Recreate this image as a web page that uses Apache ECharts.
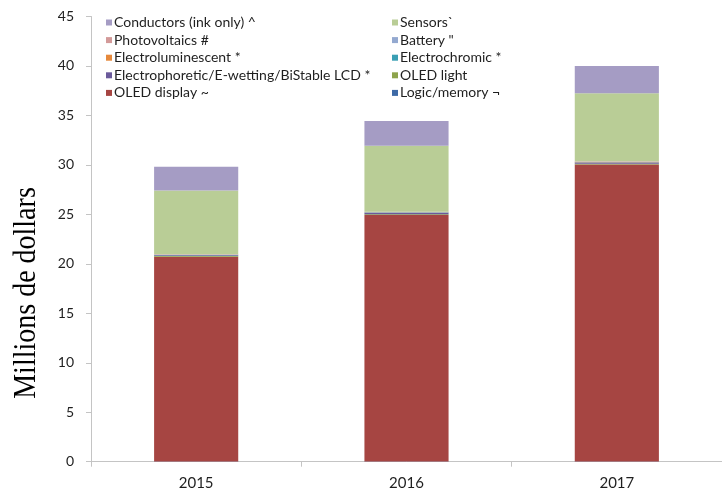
<!DOCTYPE html>
<html>
<head>
<meta charset="utf-8">
<script src="https://cdn.jsdelivr.net/npm/echarts@6/dist/echarts.min.js"></script>
<style>
  html, body { margin: 0; padding: 0; background: #ffffff; }
  #chart { width: 722px; height: 495px; }
</style>
</head>
<body>
<div id="chart"></div>
<script>
// Market value by year (millions of dollars), stacked from bottom to top
const years = ['2015', '2016', '2017'];
const logicMemory = [0.02, 0.03, 0.03];
const oledDisplay = [20.7, 24.9, 30.0];
const oledLight = [0.06, 0.08, 0.08];
const electrophoretic = [0.10, 0.14, 0.14];
const electrochromic = [0.02, 0.03, 0.03];
const electroluminescent = [0.02, 0.03, 0.03];
const battery = [0.02, 0.03, 0.04];
const photovoltaics = [0.02, 0.03, 0.03];
const sensors = [6.46, 6.66, 6.85];
const conductors = [2.4, 2.5, 2.76];
const yTicks = [0, 5, 10, 15, 20, 25, 30, 35, 40, 45];

const seriesDefs = [
  { name: 'Logic/memory \u00ac', data: logicMemory, color: '#3e6aa6' },
  { name: 'OLED display ~', data: oledDisplay, color: '#a64542' },
  { name: 'OLED light', data: oledLight, color: '#8ea44c' },
  { name: 'Electrophoretic/E-wetting/BiStable LCD *', data: electrophoretic, color: '#6b5a9b' },
  { name: 'Electrochromic *', data: electrochromic, color: '#3a9fb4' },
  { name: 'Electroluminescent *', data: electroluminescent, color: '#e6893c' },
  { name: 'Battery "', data: battery, color: '#94a9d0' },
  { name: 'Photovoltaics #', data: photovoltaics, color: '#d39a99' },
  { name: 'Sensors`', data: sensors, color: '#b9cd96' },
  { name: 'Conductors (ink only) ^', data: conductors, color: '#a59cc4' }
];

const leftLegend = ['Conductors (ink only) ^', 'Photovoltaics #', 'Electroluminescent *',
  'Electrophoretic/E-wetting/BiStable LCD *', 'OLED display ~'];
const rightLegend = ['Sensors`', 'Battery "', 'Electrochromic *', 'OLED light', 'Logic/memory \u00ac'];

const legendBase = {
  orient: 'vertical',
  top: 15.5,
  padding: 0,
  icon: 'rect',
  itemWidth: 6,
  itemHeight: 6,
  itemGap: 3.6,
  selectedMode: false,
  textStyle: {
    fontFamily: 'Lato',
    fontSize: 14,
    lineHeight: 14,
    color: '#1f1f1f',
    padding: [0, 0, 0, -3]
  }
};

const chart = echarts.init(document.getElementById('chart'), null, { renderer: 'canvas' });
chart.setOption({
  animation: false,
  backgroundColor: '#ffffff',
  grid: { left: 91, top: 16.5, width: 642, bottom: 33.3, containLabel: false },
  legend: [
    Object.assign({}, legendBase, { left: 106, data: leftLegend }),
    Object.assign({}, legendBase, { left: 392, data: rightLegend })
  ],
  xAxis: {
    type: 'category',
    data: years,
    axisLine: { lineStyle: { color: '#c4c4c4', width: 1 } },
    axisTick: { show: true, length: 5, lineStyle: { color: '#c4c4c4' } },
    axisLabel: { fontFamily: 'Lato', fontSize: 15, color: '#1f1f1f', margin: 14 }
  },
  yAxis: {
    type: 'value',
    min: yTicks[0],
    max: yTicks[yTicks.length - 1],
    interval: 5,
    axisLine: { show: true, lineStyle: { color: '#c4c4c4', width: 1 } },
    axisTick: { show: true, length: 5, lineStyle: { color: '#c4c4c4' } },
    splitLine: { show: false },
    axisLabel: { fontFamily: 'Lato', fontSize: 14, color: '#1f1f1f', margin: 17 }
  },
  graphic: [{
    type: 'text',
    x: 27,
    y: 293,
    rotation: Math.PI / 2,
    scaleY: 1.1,
    style: {
      text: 'Millions de dollars',
      fontFamily: 'Liberation Serif',
      fontSize: 28,
      fill: '#000000',
      align: 'center',
      verticalAlign: 'middle'
    }
  }],
  series: seriesDefs.map(s => ({
    name: s.name,
    type: 'bar',
    stack: 'total',
    barWidth: '40%',
    data: s.data,
    itemStyle: { color: s.color }
  }))
});
</script>
</body>
</html>
